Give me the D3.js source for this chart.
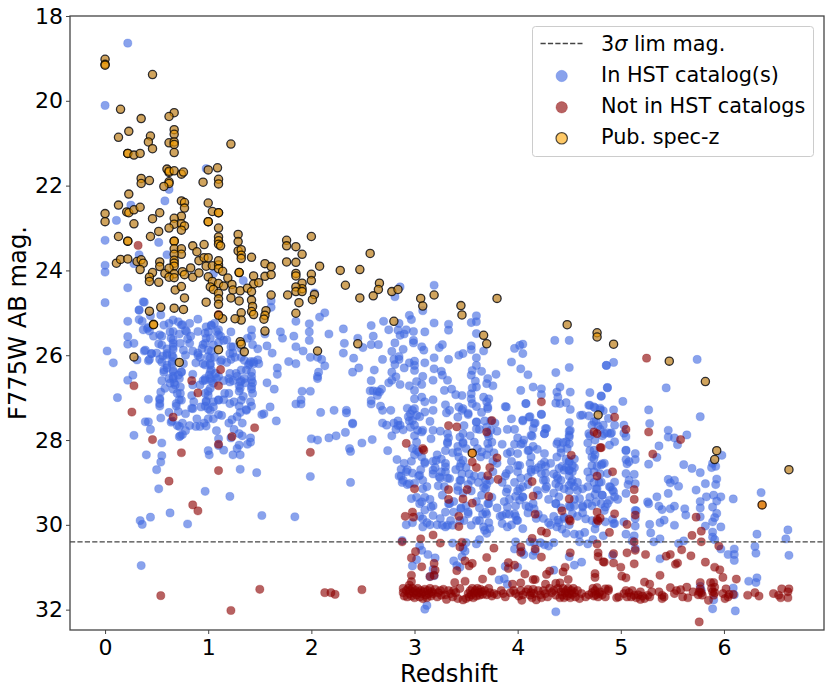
<!DOCTYPE html>
<html><head><meta charset="utf-8">
<style>html,body{margin:0;padding:0;background:#fff}svg text{font-family:"DejaVu Sans",sans-serif;fill:#000}</style>
<script src="https://cdn.jsdelivr.net/npm/d3@7"></script></head><body><div id="c"></div>
<script>
const xTicks=[0,1,2,3,4,5,6];
const yTicks=[18,20,22,24,26,28,30,32];
const limitMag=30.4;
const legendLabels=["lim mag.","In HST catalog(s)","Not in HST catalogs","Pub. spec-z"];
const inHst=[[.22,18.64],[0,20.11],[.98,21.6],[.62,22.09],[.58,22.36],[.25,22.46],[.11,22.82],[0,23.29],[.52,23.34],[.33,23.63],[.6,23.63],[0,23.88],[0,24.04],[.28,23.84],[.22,24.41],[0,24.76],[.38,24.75],[.33,24.94],[.22,25.2],[.33,25.16],[1.34,24.24],[1.05,24.08],[2.13,25],[2.08,25.1],[2.03,24.53],[1.98,25.26],[1.61,24.72],[1.61,24.87],
[.02,25.9],[.08,26.18],[.22,25.56],[.22,25.74],[.28,25.72],[.22,26.59],[.27,26.47],[.31,26.11],[.38,25.9],[.12,27],[.42,27.04],[.39,27.57],[.42,27.57],[.44,27.75],[.28,27.89],[.54,27.48],[.43,26.1],[.45,25.96],[.42,26.13],[.4,28.35],[.55,28.07],[.55,28.37],[.54,28.52],[.5,28.7],[.52,29.15],[.44,29.82],[.34,29.9],[.36,29.99],[.63,29.72],[.8,29.98],[.97,29.21],[1.21,29.33],[1.52,29.78],[1.84,29.81],[.35,30.96],[1.31,28.69],[1.47,28.77],[1.99,28.86],[2.38,29],
[.36,25.2],[.42,25.34],[.43,25.43],[.47,25.55],[.52,25.73],[.55,25.55],[.5,25.95],[.53,26.1],[.56,26.02],[.6,25.85],[.6,26],[.55,26.16],[.57,26.4],[.6,26.3],[.62,25.25],[.63,25.45],[.64,25.6],[.66,25.72],[.66,25.86],[.66,26.05],[.65,26.2],[.66,26.36],[.62,26.55],[.66,26.5],[.67,26.65],[.66,26.8],[.55,26.6],[.54,26.87],[.53,27.05],[.53,27.2],[.62,27.35],[.69,27.2],[.72,27.05],[.7,26.9],[.73,26.75],[.72,26.55],[.74,26.4],[.75,25.28],[.72,25.5],[.78,25.42],[.8,25.62],[.73,25.72],[.83,25.55],[.78,26],[.85,25.9],[.76,26.2],[.88,26.18],[.85,26.45],[.85,26.7],[.84,26.95],[.86,27.1],[.84,27.25],[.78,27.38],[.89,27.5],[.75,27.6],[.7,27.66],[.65,27.55],[.64,27.58],[.72,27.68],[.73,27.9],[.72,27.92],[.75,27.87],[.78,27.78],[.82,27.66],[.88,27.68],[.92,27.68],[.98,27.67],[.96,27.6],[1.0,27.5],[1.05,27.5],[1.1,27.4],[1.13,27.42],[1.02,27.3],[.97,27.2],[.93,27.22],[.98,27.08],[1.0,26.95],[1.05,27.1],[1.1,27.05],[1.0,26.85],[.92,26.7],[.95,26.6],[.97,26.55],[1.01,26.47],[1.03,26.6],[1.08,26.55],[1.1,26.5],[1.03,26.35],[1.02,26.2],[.95,26.2],[.92,26.05],[1.0,26.03],[1.06,26.05],[1.03,25.9],[.9,25.95],[.95,25.75],[.98,25.6],[1.0,25.45],[1.03,25.3],[1.06,25.25],[1.1,25.4],[1.15,25.65],[1.12,25.55],[1.1,25.7],[1.22,25.45],[1.22,25.8],[1.24,25.95],[1.22,26.1],[1.12,26.15],[1.18,26.17],[1.26,26.05],[1.32,25.85],[1.32,26.05],[1.35,26.12],[1.4,26.2],[1.41,26.15],[1.44,26.2],[1.38,25.6],[1.42,25.4],[1.42,25.55],[1.43,25.75],[1.42,26.4],[1.42,26.5],[1.43,26.65],[1.42,26.8],[1.43,26.9],[1.28,26.5],[1.24,26.6],[1.2,26.55],[1.15,26.6],[1.32,26.6],[1.3,26.72],[1.3,26.85],[1.34,26.97],[1.36,26.65],[1.2,26.9],[1.15,27.05],[1.25,27.1],[1.3,27.2],[1.31,27.35],[1.28,27.45],[1.41,27.1],[1.42,27.2],[1.37,27.28],[1.33,27.6],[1.23,27.52],[1.2,27.6],[1.25,27.75],[1.22,27.95],[1.3,27.85],[1.33,27.9],[1.3,28.12],[1.28,28.2],[1.41,27.95],[1.41,28.05],[1.38,28.1],[1.24,28.35],[1.31,28.35],[1.08,27.78],[1.1,27.97],[1.1,28.13],[1.15,28.24],[1.0,28.25],[1.01,28.35],[1.48,25.85],[1.49,26.2],[1.55,25.5],[1.57,25.78],[1.62,25.95],[1.67,26.3],[1.67,26.45],[1.57,26.65],[1.64,26.8],[1.54,27.38],[1.52,27.4],[1.6,27.22],[1.66,27.55],[1.78,26.15],[1.85,25.8],[1.83,25.55],[1.85,25.2],[1.98,25.45],[1.98,25.65],[1.92,25.9],[1.99,26.05],[1.85,26.2],[2.06,26.05],[2.1,26.1],[2.13,26.25],[2.07,26.4],[2.06,26.5],[2.06,26.55],[1.91,26.85],[1.9,27.05],[1.85,27.15],[1.9,27.15],[1.99,26.85],[2.09,27.35],[2,27.97],[1.7,25.45],[1.72,25.6],[2.17,25.5],[2.31,25.38],[2.32,25.72],[2.31,25.95],[2.41,26.07],[2.4,26.4],[2.46,26.3],[2.45,25.6],[2.5,25.82],[2.58,25.75],[2.58,25.3],[2.6,25.55],[2.65,25.75],[2.69,26.1],[2.61,26.35],[2.58,26.6],[2.57,26.84],[2.6,26.84],[2.64,26.85],[2.68,26.8],[2.66,26.87],[2.64,26.95],[2.58,27.07],[2.58,27.15],[2.67,27.2],[2.69,27.3],[2.22,27.3],[2.34,27.3],[2.34,27.36],[2.4,27.6],[2.4,27.62],[2.69,27.6],[2.33,27.82],[2.24,27.9],[2.06,28],[2.17,27.95],[2.37,28.2],[2.38,28.27],[2.49,28.07],[2.59,27.99],[2.73,27.65],[2.77,27.3],[2.8,27.6],[2.82,27.75],[2.84,27.55],[2.86,27.65],[2.78,27.9],[2.83,28.46],[2.87,28.69],[2.87,28.85],[2.74,28.25],[2.8,26.1],[2.7,25.2],[2.75,25.4],[2.85,25.25],[2.9,25.5],[2.92,25.4],[2.78,26.4],[2.75,26.65],[2.9,26.3],
[.37,24.74],[.33,24.93],[.44,25.07],[.54,25.05],[.57,25.29],[.41,25.37],[.37,25.4],[.53,25.52],[.66,25.17],[.66,25.44],[.66,25.64],[.66,25.8],[.71,25.21],[.74,25.29],[.79,25.44],[.82,25.25],[.9,25.15],[.9,25.44],[.82,25.72],[.76,25.88],[.55,25.76],[.45,25.96],[.39,25.88],[.6,25.96],[.65,26],[.65,26.15],[.57,26.35],[.6,26.23],[.66,26.39],[.66,26.55],[.71,26.47],[.74,26.39],[.63,26.66],[.68,26.7],[.58,26.78],[.73,26.9],[.74,27.06],[.53,27.02],[.53,27.14],[.69,27.14],[.71,27.33],[.85,27.26],[.98,25.33],[1.03,25.29],[1.08,25.44],[.97,25.48],[1.02,25.6],[.97,25.72],[1.1,25.52],[1.05,25.76],[1,25.88],[.94,25.84],[.9,26],[1.02,26.07],[1.02,26.23],[.97,26.23],[1.02,26.39],[1.02,26.55],[.97,26.59],[1.05,26.66],[1.02,26.78],[1.07,26.43],[1.13,26.11],[1.21,25.96],[1.18,25.64],[1.21,26.43],[1.27,26.43],[1.32,26.35],[1.37,26.35],[1.31,26.63],[1.31,26.78],[1.35,26.55],[1.42,26.59],[1.42,26.74],[1.21,26.63],[1.16,26.9],[1.1,27.06],[1.05,27.22],[.98,27.1],[1,27.26],[1.21,27.14],[1.37,27.3],[1.32,27.06],[1.48,26.11],[1.24,25.8],[1.44,26.15],[1.39,26.23],[.97,26.9],
[2.86,24.39],[2.81,24.62],[3.19,24.35],[3.08,24.95],[2.95,25.06],[2.97,25.16],[3.19,25.24],[3.33,25.27],[3.33,25.41],[3.6,25.07],[3.55,25.23],[3.6,25.21],[3.6,25.49],[2.84,25.41],[2.86,25.53],[2.99,25.44],[3.1,25.45],[2.81,25.71],[2.99,25.65],[2.99,25.71],[3.24,25.82],[3.27,25.75],[3.07,25.8],[3.09,25.88],[2.89,25.86],[2.78,25.91],[2.85,26.03],[2.85,26.1],[2.81,26.22],[2.95,26.18],[3,26.14],[3,26.24],[3,26.36],[3.1,26.18],[3.19,26.06],[3.19,26.32],[3.33,26.1],[3.43,26],[3.47,25.96],[3.55,25.78],[3.55,25.87],[3.67,25.9],[3.6,26.06],[3.6,26.24],[3.56,26.36],[3.55,26.47],[3.65,26.38],[3.79,26.45],[3.71,26.55],[3.7,26.67],[3.76,26.72],[3.59,26.61],[3.6,26.75],[3.56,26.77],[3.55,26.91],[3.46,26.95],[3.4,26.93],[3.36,26.8],[3.29,26.83],[3.26,26.38],[3.27,26.47],[3.32,26.59],[3.18,26.59],[3.08,26.5],[3.02,26.62],[3.07,26.69],[2.95,26.72],[2.86,26.69],[2.82,26.51],[2.78,26.59],[3,26.83],[3,27.03],[3.07,26.99],[3.1,27.1],[3.18,27.05],[2.93,27.25],[3,27.26],[2.96,27.38],[3.02,27.42],[3.18,27.3],[3.1,27.34],[3.15,27.56],[3.3,27.17],[3.31,27.36],[3.43,27.22],[3.46,27.3],[3.42,27.46],[3.52,27.4],[3.55,27.03],[3.56,27.14],[3.6,27.21],[3.67,26.99],[3.72,27.03],[3.71,27.22],[3.7,27.1],[3.88,27.21],[4.03,26.83],[4.03,26.32],[3.94,26.16],[4.1,26.46],[3.97,25.84],[4.02,25.77],[4.05,25.74],[4.05,25.96],[4.36,25.65],[4.5,25.65],[4.5,26.29],[4.37,26.41],[4.15,26.75],[4.23,26.79],[4.23,26.93],[4.08,27.14],[4.41,26.75],[4.38,26.87],[4.39,26.99],[4.37,27.13],[4.41,27.14],[4.47,27.12],[4.51,26.87],[4.51,27.28],[4.7,26.88],[4.81,26.97],[4.7,27.18],[4.75,27.24],[4.8,27.29],[4.61,27.42],[4.69,27.43],[4.86,26.24],[4.87,26.77],[4.23,27.4],[3.94,27.5],[4.11,27.46],[4.05,27.55],[4.17,27.6],[4.15,27.73],[4.28,27.73],[4.26,27.85],[4.14,27.91],[3.9,27.75],[3.97,27.75],[2.84,27.66],[2.89,27.76],[2.98,27.54],[3.03,27.77],[3.07,27.81],[3.18,27.77],[3.25,27.79],[3.48,27.66],[3.47,27.85],[3.6,27.58],[3.6,27.74],[3.74,27.77],[3.8,27.79],[4.5,27.59],[4.5,27.79],[4.5,27.89],[4.44,28.06],[4.38,28.09],[4.5,28.09],
[2.95,27.55],[2.96,27.7],[3,27.9],[3.02,28.05],[2.98,28.2],[3,28.35],[2.97,28.5],[3.04,28.28],[3.07,28.4],[3.1,28.55],[3.06,28.7],[3.04,28.85],[2.98,28.78],[2.93,28.7],[2.9,28.55],[2.85,28.85],[2.88,29],[2.93,29.05],[3,29.02],[3.08,28.95],[3.12,29.1],[3.02,29.35],[3.05,29.5],[3.1,29.35],[3.15,29.4],[3.18,29.55],[3.1,29.65],[3.05,29.8],[3.18,28.8],[3.2,28.65],[3.18,28.5],[3.22,28.35],[3.26,28.45],[3.3,28.25],[3.32,28.05],[3.33,27.95],[3.3,28.55],[3.3,28.75],[3.32,28.9],[3.25,28.9],[3.23,29.08],[3.27,29.3],[3.33,29.5],[3.38,29.45],[3.38,29.7],[3.3,29.7],[3.25,29.85],[3.35,29.9],[3.22,30],[3.3,30.05],[3.15,30],[3.12,29.95],[3.08,30.05],[2.98,29.95],[2.92,30],[3.37,28.3],[3.42,28.15],[3.43,28.4],[3.47,28.05],[3.5,28.2],[3.45,28.55],[3.4,28.7],[3.46,28.8],[3.44,28.95],[3.42,29.1],[3.47,29.25],[3.5,28.65],[3.53,28.8],[3.55,28.95],[3.58,28.85],[3.52,29.05],[3.55,29.2],[3.5,29.55],[3.52,29.7],[3.45,29.6],[3.48,29.9],[3.54,27.9],[3.58,28.05],[3.61,28.2],[3.64,28.4],[3.65,28.85],[3.62,29],[3.67,29.12],[3.65,29.3],[3.6,29.45],[3.63,29.6],[3.66,29.75],[3.6,29.9],[3.67,30.05],[3.72,29.95],[3.7,29.75],[3.72,29.5],[3.75,29.35],[3.7,29.05],[3.73,28.95],[3.76,28.75],[3.7,28.35],[3.72,28.2],[3.75,28.05],[3.72,27.92],[3.77,28.3],[3.76,28.5],[3.8,28.55],[3.65,27.35],[3.78,27.6],[3.68,27.55],[3.7,27.7],[3.74,27.55],[3.63,27.75],[3.7,30.2],[3.63,30.35],[3.6,30.45],[3.47,30.55],[3.5,30.42],[3.49,30.62],[3.37,30.43],[3.38,30.85],[3.46,30.75],[3.44,31],[3.41,30.96],[3.2,30.78],[3.18,31.05],[3.19,31.2],[3.15,31.22],[3.05,30.5],[3.07,30.6],[3.13,30.7],[2.88,30.37],[3.12,31.9],[3.1,31.99],[4.37,32.05],[3.02,30.82],[2.98,30.97],[3.88,30.98],[3.9,31.4],[3.82,31.3],[3.87,31.27],[4,31],[4.04,30.62],[4.06,30.7],[4.15,30.72],[4.35,31.07],
[2.94,27.45],[2.98,27.3],[3.05,27.45],[3,27.65],[3.08,27.77],[3.16,27.97],[3.02,28.24],[3.1,28.52],[3.18,28.71],[3.26,28.75],[3.05,28.83],[2.92,28.75],[2.89,28.95],[2.95,29.03],[3.08,29.15],[2.97,29.38],[3.07,29.46],[3.16,29.58],[3.18,29.78],[3.08,29.86],[3.27,30.01],[3.32,30.01],[3.37,30.01],[3.44,29.9],[3.45,29.62],[3.42,29.19],[3.45,28.95],[3.44,28.63],[3.47,28.48],[3.42,28.28],[3.47,28.08],[3.44,27.93],[3.32,28.08],[3.32,27.85],[3.34,27.3],[3.47,27.26],[3.52,27.37],[3.6,27.57],[3.71,27.26],[3.71,27.85],[3.71,28.08],[3.65,28.28],[3.69,28.95],[3.69,29.15],[3.71,29.5],[3.69,29.7],[3.63,29.9],[3.68,30.13],[3.73,30.09],[3.55,30.01],[3.89,29.23],[3.9,29.58],[3.89,29.74],[3.97,29.74],[3.9,30.05],[4.02,29.42],[4,28.6],[3.9,28.32],[3.89,27.22],[3.89,28.79],[3.29,29.1],[3.24,28.87],[3.21,28.48],[3.3,28.63],[3.34,28.91],[3.52,29.74],[3.34,29.5],
[4.08,27.14],[4.12,27.45],[4.05,27.53],[4.16,27.61],[4.23,27.39],[4.26,27.85],[4.27,27.73],[4.13,27.89],[4.05,28.08],[4.11,28.24],[4.19,28.22],[4.13,28.4],[4.02,28.6],[4.26,28.32],[4.26,28.52],[4.13,28.75],[4.23,28.79],[4.27,28.95],[4.39,28.91],[4.37,29.03],[4.27,29.15],[4.19,29.19],[4.02,29.15],[4.05,29.34],[4.11,29.58],[3.99,29.89],[4.05,30.09],[4.16,29.62],[4.39,28.04],[4.47,28.04],[4.5,27.93],[4.51,27.77],[4.48,28.2],[4.42,28.2],[4.5,28.52],[4.4,28.67],[4.45,28.71],[4.5,28.71],[4.53,28.75],[4.53,28.95],[4.5,29.07],[4.58,29.19],[4.4,29.34],[4.37,29.5],[4.51,29.58],[4.53,29.74],[4.45,29.82],[4.39,29.89],[4.63,29.58],[4.66,29.86],[4.76,29.97],[4.85,29.93],[4.93,29.97],[4.69,27.85],[4.74,28.24],[4.82,28.56],[4.74,28.44],[4.68,28.75],[4.81,28.99],[4.76,29.15],[4.9,29.11],[4.93,29.22],[4.82,29.3],[4.76,29.46],[4.87,29.5],[4.9,27.85],[4.84,27.85],[4.69,27.18],[4.74,27.22],[4.63,27.41],[4.74,27.57],[5.05,28.24],[5.06,28.56],[5.08,28.95],
[3.85,28.1],[3.93,28.28],[3.97,28.1],[4,28.32],[4,27.95],[4.03,28.1],[4.06,28],[3.94,28.5],[3.92,28.7],[3.88,28.85],[3.85,29],[3.9,29.15],[3.97,29],[4,29.2],[4.05,29.1],[4.03,28.9],[4,28.75],[4.1,28.25],[4.12,28.55],[4.15,28.15],[4.13,28.7],[4.1,28.88],[4.17,28.7],[4.2,28.65],[4.23,28.58],[4.27,28.62],[4.1,29.05],[4.05,29.35],[3.98,29.33],[3.92,29.4],[3.87,29.45],[3.98,29.55],[4.08,29.55],[4.1,29.72],[4.15,29.5],[4.2,29.3],[4.25,28.95],[4.27,28.78],[4.28,29.1],[4.35,28.8],[4.32,28.55],[4.38,28.4],[4.42,28.3],[4.47,28.45],[4.5,28.5],[4.53,28.6],[4.55,28.45],[4.43,28.62],[4.47,28.65],[4.5,28.72],[4.55,28.65],[4.38,28.85],[4.42,28.95],[4.5,28.85],[4.52,29],[4.45,29.15],[4.4,29.1],[4.55,29.1],[4.58,29],[4.35,29.25],[4.3,29.4],[4.37,29.5],[4.42,29.6],[4.5,29.2],[4.55,29.4],[4.5,29.55],[4.55,29.55],[4.6,29.38],[4.63,29.55],[4.2,29.75],[4.18,29.85],[4.25,29.85],[4.3,29.95],[4.35,29.8],[4.32,30],[4.38,30.05],[4.4,29.95],[4.45,29.85],[4.43,30.1],[4.5,30],[4.47,30.2],[4.55,30.22],[4.6,30.23],[4.65,30.18],[4.58,29.8],[4.63,29.72],[4.68,29.5],[4.7,29.35],[4.63,29.15],[4.68,29.1],[4.72,29.55],[4.72,29.9],[4.75,30.1],[4.73,30.35],[4.68,30.45],[4.7,28.25],[4.72,28.4],[4.75,28.35],[4.72,28.6],[4.74,28.75],[4.77,28.62],[4.7,28.9],[4.74,29],[4.77,29.15],[4.75,29.28],[4.79,29],[4.8,28.8],[4.72,27.65],[4.76,27.55],[4.78,27.68],[4.8,27.75],[4.7,27.9],[4.75,28],[4.82,27.9],[4.68,28.07],[4.12,30.4],[4.16,30.42],[4.22,30.42],[4.26,30.47],[4.3,30.5],[4.35,30.42],[4.17,30.62],[3.97,30.57],[3.98,30.4],[3.92,29.75],[3.98,29.8],[4,29.9],[3.94,30],[3.85,29.78],[3.85,29.97],[3.8,29.6],[3.83,29.8],[4.55,30.95],[4.6,30.4],[4.5,30.75],[4.62,30.88],
[5.74,26.1],[4.93,26.17],[4.86,26.24],[5.44,26.77],[4.87,26.76],[5.77,27.45],[5.02,27.09],[5.27,27.29],[5.28,27.61],[4.81,26.96],[4.93,27.29],[4.83,27.31],[4.8,27.25],[5.46,27.77],[5.46,27.93],[5.52,27.95],[5.64,27.88],[5.55,28.11],[5.37,28.14],[5.35,28.41],[5.27,28.57],[5.61,28.58],[5.69,28.67],[5.77,28.77],[5.92,28.62],[5.88,28.65],[5.89,28.55],[5.98,28.36],[5.93,28.92],[5.92,29.05],[5.82,29.03],[5.73,29.18],[5.46,28.93],[5.52,28.95],[5.48,29.01],[5.56,29.09],[5.46,29.26],[5.35,29.34],[5.83,29.34],[5.9,29.3],[5.97,29.34],[5.93,29.44],[6.09,29.39],[5.77,29.45],[5.77,29.6],[5.89,29.58],[5.62,29.62],[5.63,29.77],[5.37,29.56],[5.4,29.64],[5.48,29.62],[5.52,29.56],[5.26,29.46],[5.27,29.5],[5.42,29.89],[5.38,29.95],[5.28,29.99],[5.29,30.19],[5.52,30.01],[5.77,29.81],[5.93,29.73],[5.91,29.83],[5.89,29.93],[5.97,30.05],[5.82,30.03],[5.89,30.17],[5.89,30.29],[5.91,30.35],[5.61,30.38],[5.56,30.44],[5.38,30.33],[5.32,30.4],[5.38,30.8],[6.1,30.57],[6.04,30.7],[6.1,30.7],[6.1,30.84],[5.97,30.57],[6.36,29.24],[6.32,30.22],[6.3,30.51],[6.31,30.67],[6.62,30.12],[6.6,30.33],[6.63,30.72],[6.32,31.25],[6.24,31.33],[6.31,31.36],[6.09,31.49],[5.9,31.77],[5.89,31.98],[6.11,32.03],[5.05,28.25],[5.05,28.46],[5.14,28.32],[5.14,28.46],[5.08,28.51],[5.05,28.79],[5.13,28.81],[5.14,29.03],[5.07,29.05],[5.05,29.26],[5.14,29.66],[5.15,29.67],[5.14,29.85],[5.14,30.03],[5.13,30.26],[5.03,29.93],[5.05,30.22],[4.94,29.97],[4.92,29.87],[5.11,30.38],[5.14,30.56],[4.83,30.26],[4.92,30.72],[5.03,27.65],[5.03,27.84],[5.05,27.92],[4.94,28.04],[4.89,28.12],[4.91,27.83],[4.87,27.83],[4.94,27.65],[4.88,27.49],[4.83,27.65],[4.84,28.55],[4.81,28.59],[4.87,28.79],[4.94,28.99],[4.89,29.1],[4.92,29.18],[4.94,29.34],[4.97,29.4],[4.89,29.42],[4.82,29.3],[4.85,29.58],[4.84,29.66],[4.81,29.5],[6.1,31.65],[5.78,31.55],[5.77,31.45]];
const notInHst=[[.32,23.41],[1.1,25.04],[1.12,26.34],[.84,26.6],[.28,26.72],[1.1,26.72],[.9,26.89],[.26,27.34],[.66,27.46],[1.45,27.71],[1.23,27.92],[.46,27.99],[1.1,28.1],[.74,28.3],[1.99,28.29],[1.1,28.72],[.62,28.97],[.85,29.53],[.9,29.67],[.54,31.67],[1.5,31.52],[1.22,32.02],[2.13,31.6],[2.19,31.6],[2.23,31.64],[2.49,31.53],
[4.23,27.1],[3.33,27.66],[3.41,27.69],[3.75,27.54],[3.7,27.81],[2.92,28.08],[3.08,28.2],[3.09,28.24],[4.74,27.81],[4.77,27.85],[4.8,28.18],[4.52,28.36],[3.8,28.42],[3.56,28.52],[3.6,28.65],[3.73,28.65],[3.71,28.84],[3.81,28.93],[4.14,28.98],[4.77,28.85],[3,29.15],[3.33,29.17],[3.51,29.17],[4.15,29.32],[3.72,29.33],[3.33,29.4],[3.47,29.39],[3.56,29.49],[4.5,29.39],[4.43,29.67],[4.77,29.7],[2.98,29.7],[2.91,29.8],[2.99,29.82],[3.43,29.8],[4.17,29.75],[4.5,29.87],[4.8,29.84],[4.77,29.88],
[4.51,29.91],[4.78,29.91],[3.18,30.24],[3.43,30.04],[4.23,30.15],[4.28,30.19],[3.06,30.33],[2.88,30.4],[3.25,30.43],[3.46,30.41],[3.44,30.52],[4.14,30.32],[3.77,30.55],[4.03,30.52],[4.03,30.65],[4.17,30.57],[3.01,30.63],[2.97,30.78],[3.7,30.77],[4.23,30.76],[4.51,30.66],[4.78,30.66],[4.78,30.75],[4.83,30.87],[4.77,30.45],[3.49,30.85],[3.56,30.91],[3.53,30.97],[3.19,30.91],[3.07,30.99],[3.41,31.08],[3.2,31.07],[3.19,31.19],[3.15,31.22],[3.91,30.89],[3.91,31.03],[3.97,30.95],[3.75,31.09],[4.07,31.16],[4.28,31.17],[4.31,31.09],[4.44,31.11],[4.46,31],[4.75,31.15],[4.75,31.24],[2.97,31.19],[2.97,31.34],[2.95,31.42],[3.39,31.36],[3.49,31.33],[3.66,31.28],[4.03,31.37],[3.95,31.4],[4.15,31.29],[4.17,31.29],[4.27,31.4],[4.37,31.38],[4.41,31.37],[4.49,31.29],
[4.94,27.46],[5.05,27.75],[5.27,27.81],[5.58,27.99],[4.81,28.18],[5.31,28.33],[4.92,28.75],[5.13,29.17],[5.13,29.4],[5.14,29.77],[4.94,29.74],[5.06,29.99],[4.89,30.18],[5.73,29.82],[5.78,30.15],[5.69,30.25],[5.78,30.4],[5.13,30.4],[5.95,30.5],[5.14,30.6],[5.59,30.59],[4.93,30.68],[5.06,30.66],[5.24,30.7],[5.48,30.7],[5.44,30.74],[5.68,30.73],[4.93,30.9],[4.84,30.88],[5.13,30.92],[5.53,30.93],[5.55,30.9],[5.82,30.88],[5,31],[5.91,31],[5.96,31.06],[5.01,31.21],[5.05,31.25],[5.38,31.19],[5.99,31.24],[6.12,31.28],[5.23,31.35],[5.28,31.4],[5.77,31.36],[5.87,31.36],[5.9,31.36],[5.91,31.47],[5.25,26.07],[5.76,32.29],
[4.79,31.62],[4.85,31.51],[4.88,31.51],[4.96,31.72],[4.98,31.7],[5.03,31.62],[5.05,31.55],[5.06,31.7],[5.11,31.55],[5.13,31.66],[5.15,31.72],[5.19,31.58],[5.19,31.76],[5.23,31.74],[5.26,31.66],[5.3,31.58],[5.37,31.58],[5.4,31.66],[5.4,31.74],[5.48,31.48],[5.52,31.62],[5.54,31.55],[5.58,31.53],[5.6,31.7],[5.64,31.47],[5.65,31.72],[5.7,31.58],[5.76,31.58],[5.77,31.51],[5.79,31.66],[5.85,31.78],[5.89,31.58],[5.9,31.66],[5.99,31.62],[6.02,31.51],[6.01,31.74],[6.04,31.7],[6.05,31.64],[6.09,31.64],[6.23,31.66],[6.3,31.6],[6.34,31.68],[6.48,31.62],[6.53,31.66],[6.56,31.51],[6.55,31.72],[6.62,31.58],[6.63,31.51],[6.62,31.72],[5.08,31.6],[5.1,31.7],[5.17,31.65],[5.21,31.68],[5.28,31.7],[5.42,31.7],[5.75,31.65],[5.78,31.6],[5.88,31.5],[5.91,31.6],
[2.89,31.5],[2.89,31.6],[2.9,31.68],[2.92,31.55],[2.93,31.7],[2.94,31.5],[2.95,31.62],[2.96,31.55],[2.97,31.68],[2.98,31.5],[2.99,31.6],[3,31.72],[3.01,31.55],[3.02,31.65],[3.03,31.5],[3.04,31.6],[3.05,31.7],[3.06,31.55],[3.07,31.62],[3.08,31.74],[3.09,31.58],[3.1,31.52],[3.11,31.66],[3.12,31.72],[3.13,31.55],[3.14,31.62],[3.15,31.5],[3.16,31.68],[3.17,31.58],[3.18,31.62],[3.2,31.52],[3.22,31.7],[3.23,31.6],[3.25,31.55],[3.26,31.66],[3.28,31.52],[3.3,31.65],[3.31,31.76],[3.33,31.55],[3.35,31.62],[3.37,31.7],[3.38,31.55],[3.4,31.6],[3.42,31.74],[3.44,31.5],[3.47,31.77],[3.5,31.74],[3.52,31.62],[3.53,31.7],[3.54,31.55],[3.55,31.65],[3.56,31.5],[3.57,31.72],[3.58,31.6],[3.59,31.55],[3.6,31.68],[3.61,31.5],[3.62,31.6],[3.63,31.66],[3.64,31.52],[3.65,31.58],[3.66,31.64],[3.68,31.55],[3.7,31.65],[3.72,31.5],[3.73,31.6],[3.75,31.68],[3.77,31.62],[3.8,31.65],[3.84,31.55],[3.86,31.62],[3.88,31.7],[3.93,31.6],[3.96,31.55],[3.98,31.62],[4.01,31.68],[4.03,31.55],[4.04,31.78],[4.05,31.65],[4.08,31.58],[4.1,31.52],[4.12,31.66],[4.13,31.6],[4.14,31.72],[4.15,31.52],[4.16,31.62],[4.18,31.77],[4.2,31.55],[4.22,31.65],[4.23,31.72],[4.25,31.55],[4.27,31.62],[4.29,31.7],[4.31,31.5],[4.33,31.6],[4.35,31.55],[4.37,31.66],[4.39,31.5],[4.41,31.72],[4.42,31.58],[4.43,31.66],[4.44,31.5],[4.45,31.72],[4.46,31.6],[4.47,31.55],[4.48,31.68],[4.49,31.5],[4.5,31.62],[4.51,31.72],[4.52,31.55],[4.53,31.64],[4.54,31.5],[4.55,31.6],[4.56,31.7],[4.58,31.55],[4.6,31.74],[4.62,31.62],[4.66,31.7],[4.69,31.65],[4.72,31.6],[4.73,31.5],[4.74,31.68],[4.75,31.55],[4.76,31.65],[4.77,31.48],[4.78,31.7],[4.8,31.58],[4.82,31.65],[4.85,31.7],[4.88,31.55],[6.37,29.53],[3.56,28.31]];
const specZ=[[0,19.02],[0,19.14],[0,19.16],[.46,19.38],[.15,20.2],[.35,20.42],[.67,20.28],[.62,20.37],[.23,20.72],[.13,20.86],[.44,20.83],[.42,20.97],[.46,21.13],[.67,20.68],[.67,20.79],[.62,20.99],[.67,20.97],[.67,21.03],[.67,21.22],[1.22,21.02],[.22,21.24],[.22,21.24],[.28,21.28],[.34,21.24],[.6,21.61],[.62,21.69],[.62,21.66],[.67,21.65],[.74,21.73],[.76,21.68],[1,21.63],[1.09,21.58],[1.1,21.85],[1.1,21.96],[.95,21.92],[.35,21.83],[.35,21.95],[.43,21.88],[.62,21.91],[.62,21.95],[.57,22.02],[.23,22.2],[.74,22.36],[.77,22.4],[.77,22.53],[1,22.41],[.13,22.46],[.21,22.62],[.23,22.64],[.28,22.57],[.34,22.51],[0,22.66],[0,22.85],[.53,22.64],[.46,22.78],[.74,22.72],[.67,22.77],[.67,22.91],[.74,22.9],[.77,22.95],[.74,23.05],[.62,23],[.52,23.08],[.28,22.9],[1.04,22.61],[1.1,22.64],[1.1,22.64],[1,22.85],[1,22.85],[1.1,23],[.13,23.2],[.22,23.31],[.22,23.31],[.44,23.2],[.67,23.31],[.67,23.31],[.67,23.49],[.74,23.49],[.74,23.62],[.67,23.62],[.67,23.76],[.67,23.83],[.67,23.9],[.53,23.8],[.53,23.91],[.85,23.42],[.96,23.39],[.89,23.56],[1.1,23.21],[1.1,23.3],[1.1,23.38],[1.12,23.42],[1.29,23.15],[1.29,23.32],[1.29,23.54],[1.32,23.51],[1.32,23.64],[1.32,23.72],[1.76,23.29],[1.76,23.42],[1.85,23.44],[2,23.2],[1.91,23.62],[1.76,23.8],[1.85,23.81],[1.42,23.69],[1.55,23.84],[1.61,23.91],[.11,23.83],[.15,23.74],[.22,23.73],[.31,23.79],[.35,23.75],[.37,23.83],[.34,23.98],[.46,24.05],[.43,24.16],[.43,24.26],[.52,24.28],[.58,24.07],[.62,23.95],[.67,24.08],[.62,24.16],[.67,24.17],[.75,24.03],[.77,24.1],[.85,24.16],[.91,24.06],[.83,23.94],[.91,23.77],[.96,23.7],[1,23.7],[.98,23.9],[1.04,23.89],[1.1,23.87],[1.1,23.96],[1.14,24.02],[1.1,23.77],[1,24.15],[1.04,24.26],[1.02,24.39],[1.1,24.31],[1.05,24.45],[1.19,24.18],[1.23,24.33],[1.15,24.37],[1.24,24.46],[1.31,24.48],[1.3,24.05],[1.3,24.05],[1.44,24.13],[1.44,24.32],[1.49,24.29],[1.55,24.14],[1.61,24.1],[1.38,24.42],[1.42,24.5],[1.61,24.58],[1.42,24.7],[1.43,24.85],[1.42,24.97],[1.44,25.04],[1.85,24.07],[1.85,24.13],[2,24.09],[2,24.24],[1.91,24.3],[1.91,24.43],[1.85,24.39],[1.85,24.5],[1.77,24.58],[2.03,24.57],[2.01,24.69],[1.88,24.76],[1.85,25.01],[1.56,24.95],[1.55,25.06],[1.54,25.15],[1.3,24.72],[1.22,24.65],[1.32,25],[1.32,25.17],[1.1,24.54],[1.1,24.67],[1.1,24.8],[.98,24.75],[.77,24.65],[.76,24.92],[.68,24.46],[.74,24.38],[.67,24.89],[.54,24.87],[.43,24.96],[.47,25.27],[1.14,25.14],[1.26,25.14],[1.1,25.06],[.47,25.28],[.28,26.04],[.72,26.17],[1.1,25.87],[1.31,25.68],[1.32,25.74],[1.35,25.92],[1.55,25.43],[2.06,25.9],[2.45,25.73],[2.8,25.2],[2.28,24],[2.08,23.9],[2.33,24.35],[2.47,23.98],[2.57,23.6],[2.6,24.6],[2.66,24.3],[2.65,24.45],[2.78,24.5],[2.84,24.45],[2.47,24.65],[1.91,24.5],[3.06,24.66],[3.19,24.58],[3.08,24.84],[3.45,24.83],[3.46,25.05],[3.8,24.66],[3.67,25.53],[3.7,25.73],[4.48,25.28],[4.77,25.47],[4.77,25.57],[4.78,27.41],[3.56,28.31],[4.93,25.74],[5.47,26.14],[5.82,26.62],[5.93,28.25],[5.91,28.46],[6.63,28.7],[6.37,29.53]];
const specInRed=new Set(["6.37,29.53","3.56,28.31"]);
const specInHst=specZ.filter(d=>!specInRed.has(d.join(",")));

const W=831,H=694,m={l:70,r:824,t:16,b:630};
const x=d3.scaleLinear().domain([-0.34,6.97]).range([m.l,m.r]);
const y=d3.scaleLinear().domain([18,32.48]).range([m.t,m.b]);
const svg=d3.select("#c").append("svg").attr("width",W).attr("height",H).style("display","block");
function pts(data,fill,alpha,edge){
  svg.append("g").selectAll("circle").data(data).join("circle")
    .attr("cx",d=>x(d[0])).attr("cy",d=>y(d[1])).attr("r",4.1)
    .attr("fill",fill).attr("fill-opacity",alpha)
    .attr("stroke",edge||fill).attr("stroke-opacity",edge?0.75:alpha*.6).attr("stroke-width",edge?1.3:0.8);
}
pts(inHst.concat(specInHst),"#4169e1",0.62);
pts(notInHst,"#8b0000",0.62);
pts(specZ,"#ffa500",0.6,"#000");
svg.append("line").attr("x1",m.l).attr("x2",m.r).attr("y1",y(limitMag)).attr("y2",y(limitMag))
  .attr("stroke","#444").attr("stroke-width",1.3).attr("stroke-dasharray","5.2 2.2");
const ax=svg.append("g").attr("transform",`translate(0,${m.b})`).call(d3.axisBottom(x).tickValues(xTicks).tickFormat(d3.format("d")).tickSize(4).tickPadding(5));
const ay=svg.append("g").attr("transform",`translate(${m.l},0)`).call(d3.axisLeft(y).tickValues(yTicks).tickFormat(d3.format("d")).tickSize(4).tickPadding(3));
[ax,ay].forEach(a=>{a.selectAll("text").style("font-size","22px").style("font-family",'"DejaVu Sans"');a.select(".domain").remove();a.selectAll("line").attr("stroke","#444");});
svg.append("rect").attr("x",m.l).attr("y",m.t).attr("width",m.r-m.l).attr("height",m.b-m.t).attr("fill","none").attr("stroke","#444").attr("stroke-width",1.3);
svg.append("text").attr("x",449).attr("y",682).attr("text-anchor","middle").style("font-size","24.2px").text("Redshift");
svg.append("text").attr("transform","translate(26,323) rotate(-90)").attr("text-anchor","middle").style("font-size","24.2px").text("F775W AB mag.");
// legend
const lg=svg.append("g");
lg.append("rect").attr("x",532.5).attr("y",26.5).attr("width",281).attr("height",130).attr("rx",3).attr("fill","#fff").attr("fill-opacity",.85).attr("stroke","#ccc");
const lx=601,rows=[51,82.3,113.3,143.5];
lg.append("line").attr("x1",540.5).attr("x2",582.5).attr("y1",43.5).attr("y2",43.5).attr("stroke","#444").attr("stroke-width",1.3).attr("stroke-dasharray","5.2 2.2");
const t0=lg.append("text").attr("x",lx).attr("y",rows[0]).style("font-size","20.8px");
t0.append("tspan").text("3");t0.append("tspan").style("font-style","italic").text("σ");t0.append("tspan").text(" "+legendLabels[0]);
legendLabels.slice(1).forEach((s,i)=>lg.append("text").attr("x",lx).attr("y",rows[i+1]).style("font-size","20.8px").text(s));
[["#4169e1",.62,null,76],["#8b0000",.62,null,107.3],["#ffa500",.6,"#000",138.3]].forEach(([f,a,e,cy])=>{
  lg.append("circle").attr("cx",561.7).attr("cy",cy).attr("r",5.7).attr("fill",f).attr("fill-opacity",a).attr("stroke",e||f).attr("stroke-opacity",e?.7:a*.6).attr("stroke-width",e?1.2:.8);
});
</script></body></html>
